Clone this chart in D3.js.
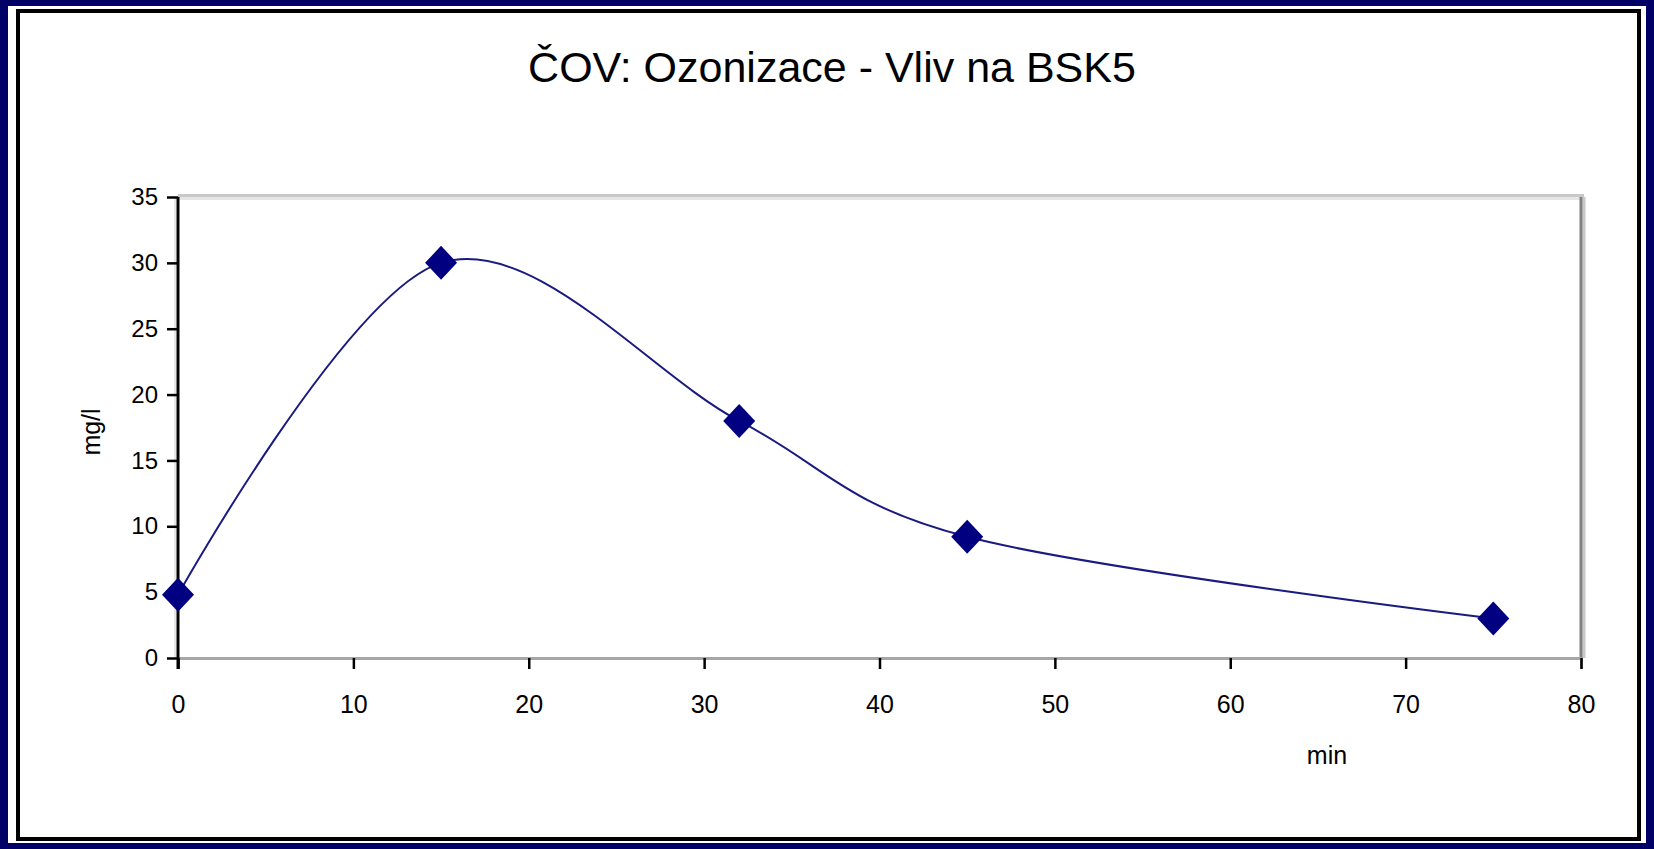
<!DOCTYPE html>
<html>
<head>
<meta charset="utf-8">
<script src="https://cdn.jsdelivr.net/npm/d3@7"></script>
<style>
html,body{margin:0;padding:0;background:#fff;}
svg{display:block;}
text{font-family:"Liberation Sans",Arial,sans-serif;fill:#000;}
</style>
</head>
<body>
<svg id="chart" width="1654" height="849"></svg>
<script>
// ---- data ----
const title = "ČOV: Ozonizace - Vliv na BSK5";
const xLabel = "min";
const yLabel = "mg/l";
const minutes = [0, 15, 32, 45, 75];
const bsk5 = [4.8, 30, 18, 9.2, 3];
const xTicks = [0, 10, 20, 30, 40, 50, 60, 70, 80];
const yTicks = [0, 5, 10, 15, 20, 25, 30, 35];

const W = 1654, H = 849;
const svg = d3.select("#chart");

// outer navy frame
const navy = "#000066";
svg.append("rect").attr("x",0).attr("y",0).attr("width",W).attr("height",H).attr("fill",navy);
svg.append("rect").attr("x",8).attr("y",6).attr("width",W-8-8).attr("height",H-6-6).attr("fill","#fff");
// black frame
svg.append("rect").attr("x",18).attr("y",11).attr("width",1621).attr("height",828)
  .attr("fill","#fff").attr("stroke","#000").attr("stroke-width",4);

const plot = {left:178, right:1581, top:197, bottom:658};
const x = d3.scaleLinear().domain([0,80]).range([plot.left, plot.right]);
const y = d3.scaleLinear().domain([0,35]).range([plot.bottom, plot.top]);

// plot border (Excel-like)
svg.append("line").attr("x1",plot.left).attr("x2",plot.right+3).attr("y1",195.5).attr("y2",195.5)
  .attr("stroke","#c8c8c8").attr("stroke-width",3);
svg.append("line").attr("x1",plot.left).attr("x2",plot.right).attr("y1",198.5).attr("y2",198.5)
  .attr("stroke","#e6e6e6").attr("stroke-width",3);
svg.append("line").attr("x1",plot.right+3).attr("x2",plot.right+3).attr("y1",197).attr("y2",plot.bottom)
  .attr("stroke","#c8c8c8").attr("stroke-width",3);
svg.append("line").attr("x1",plot.right).attr("x2",plot.right).attr("y1",197).attr("y2",plot.bottom)
  .attr("stroke","#808080").attr("stroke-width",3);
svg.append("line").attr("x1",175).attr("x2",175).attr("y1",plot.top).attr("y2",plot.bottom)
  .attr("stroke","#e6e6e6").attr("stroke-width",2);

// x axis
const xAxis = d3.axisBottom(x).tickValues(xTicks).tickSize(11).tickPadding(26).tickFormat(d3.format("d"));
const gx = svg.append("g").attr("transform",`translate(0,${plot.bottom})`).call(xAxis);
gx.select(".domain").attr("stroke","#a6a6a6").attr("stroke-width",3);
gx.selectAll(".tick line").attr("stroke","#000").attr("stroke-width",2.5);
gx.selectAll(".tick text").attr("font-size",25).attr("font-family","Liberation Sans, Arial, sans-serif").attr("fill","#111");

// y axis
const yAxis = d3.axisLeft(y).tickValues(yTicks).tickSize(11).tickPadding(9).tickFormat(d3.format("d"));
const gy = svg.append("g").attr("transform",`translate(${plot.left},0)`).call(yAxis);
gy.select(".domain").remove();
gy.selectAll(".tick line").attr("stroke","#000").attr("stroke-width",2.5);
gy.selectAll(".tick text").attr("font-size",24).attr("font-family","Liberation Sans, Arial, sans-serif").attr("fill","#111");
svg.append("line").attr("x1",plot.left).attr("x2",plot.left).attr("y1",plot.top).attr("y2",plot.bottom+11)
  .attr("stroke","#000").attr("stroke-width",3);

// line
const pts = minutes.map((m,i)=>[m,bsk5[i]]);
const line = d3.line().x(d=>x(d[0])).y(d=>y(d[1])).curve(d3.curveCardinal.tension(0));
svg.append("path").datum(pts).attr("d",line).attr("fill","none")
  .attr("stroke","#1a1a80").attr("stroke-width",2);

// markers
const r = 17;
svg.selectAll("path.mk").data(pts).enter().append("path").attr("class","mk")
  .attr("d",d=>{const cx=x(d[0]), cy=y(d[1]); return `M${cx},${cy-r}L${cx+r-1},${cy}L${cx},${cy+r}L${cx-r+1},${cy}Z`;})
  .attr("fill","#000080");

// titles
svg.append("text").attr("x",832).attr("y",82).attr("text-anchor","middle").attr("font-size",43).text(title);
svg.append("text").attr("x",1327).attr("y",764).attr("text-anchor","middle").attr("font-size",25).text(xLabel);
svg.append("text").attr("transform","translate(100,432) rotate(-90)").attr("text-anchor","middle").attr("font-size",25).text(yLabel);
</script>
</body>
</html>
